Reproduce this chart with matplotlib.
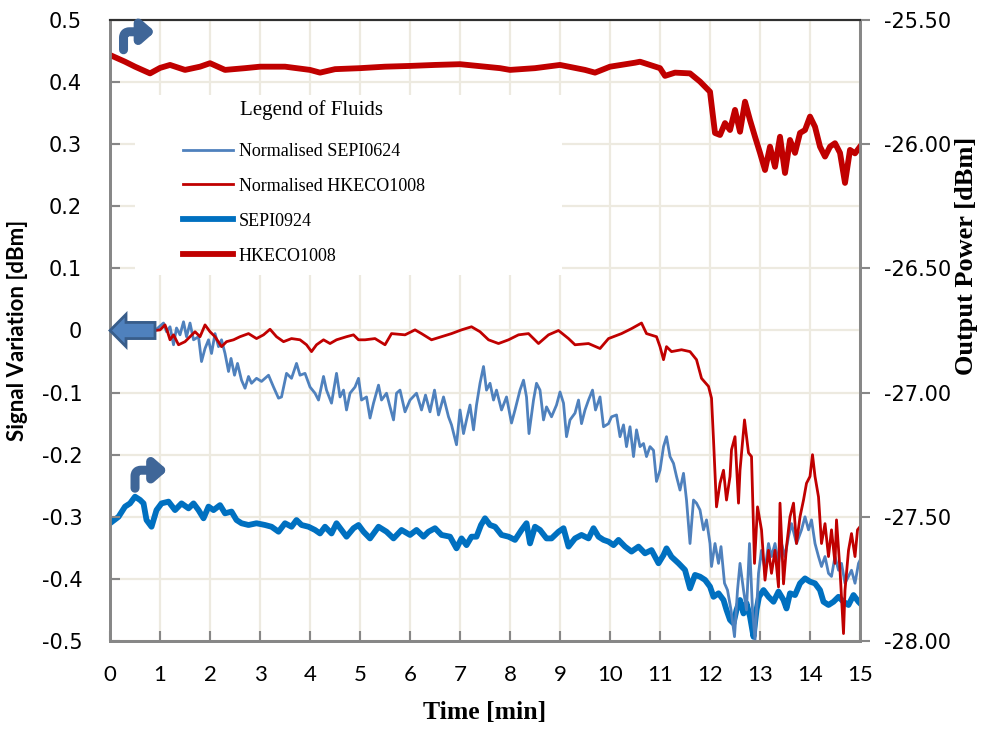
import matplotlib
matplotlib.use("Agg")
import matplotlib.pyplot as plt
from matplotlib.patches import FancyArrow, Rectangle
import numpy as np

plt.rcParams['axes.unicode_minus'] = False

# ---- data ----
# Normalised HKECO1008, left axis [dBm]
t_norm_hk = [0.0, 0.5, 0.9, 1.0, 1.1, 1.15, 1.2, 1.27, 1.37, 1.5, 1.6, 1.7, 1.8, 1.9, 2.0,
             2.1, 2.23, 2.33, 2.47, 2.6, 2.77, 2.93, 3.07, 3.2, 3.33, 3.47, 3.63, 3.8, 3.93,
             4.03, 4.13, 4.27, 4.4, 4.53, 4.73, 4.87, 4.97, 5.1, 5.3, 5.5, 5.63, 5.9, 6.1,
             6.23, 6.43, 6.63, 6.83, 7.03, 7.23, 7.4, 7.57, 7.77, 7.97, 8.17, 8.37, 8.57,
             8.77, 8.97, 9.17, 9.3, 9.57, 9.8, 9.97, 10.23, 10.43, 10.63, 10.73, 10.93,
             11.0, 11.07, 11.13, 11.23, 11.43, 11.6, 11.73, 11.83, 11.97, 12.03, 12.07,
             12.13, 12.2, 12.27, 12.33, 12.4, 12.43, 12.5, 12.57, 12.6, 12.69, 12.77, 12.83,
             12.89, 12.95, 13.03, 13.1, 13.17, 13.23, 13.3, 13.37, 13.4, 13.47, 13.53, 13.6,
             13.67, 13.73, 13.8, 13.87, 13.93, 14.0, 14.05, 14.1, 14.17, 14.23, 14.3, 14.37,
             14.43, 14.5, 14.53, 14.6, 14.67, 14.7, 14.77, 14.83, 14.9, 14.95, 15.0]
v_norm_hk = [0.0, 0.0, 0.0, 0.001, 0.009, -0.002, -0.015, -0.007, -0.023, -0.018, -0.010,
             -0.002, -0.010, 0.009, -0.002, -0.010, -0.026, -0.018, -0.015, -0.010, -0.005,
             -0.013, -0.007, 0.002, -0.010, -0.018, -0.013, -0.015, -0.023, -0.034, -0.023,
             -0.015, -0.021, -0.015, -0.010, -0.007, -0.015, -0.015, -0.013, -0.023, -0.005,
             -0.007, 0.001, -0.005, -0.015, -0.010, -0.005, 0.001, 0.006, -0.002, -0.015,
             -0.021, -0.015, -0.007, -0.005, -0.021, -0.007, 0.000, -0.013, -0.023, -0.021,
             -0.029, -0.013, -0.005, 0.003, 0.012, -0.005, -0.010, -0.026, -0.047, -0.026,
             -0.034, -0.031, -0.034, -0.047, -0.077, -0.090, -0.109, -0.176, -0.284, -0.246,
             -0.225, -0.273, -0.235, -0.192, -0.171, -0.278, -0.225, -0.144, -0.197, -0.203,
             -0.375, -0.284, -0.321, -0.402, -0.354, -0.391, -0.354, -0.413, -0.278, -0.408,
             -0.348, -0.300, -0.278, -0.343, -0.300, -0.273, -0.246, -0.235, -0.200, -0.235,
             -0.268, -0.343, -0.311, -0.364, -0.321, -0.375, -0.305, -0.386, -0.488, -0.418,
             -0.354, -0.327, -0.364, -0.321, -0.316]

# Normalised SEPI0624, left axis [dBm]
t_norm_sepi = [0.0, 0.5, 0.9, 1.07, 1.13, 1.2, 1.27, 1.33, 1.4, 1.47, 1.53, 1.6, 1.67, 1.77,
               1.83, 1.9, 1.97, 2.03, 2.1, 2.17, 2.23, 2.3, 2.37, 2.42, 2.49, 2.55, 2.63, 2.7,
               2.77, 2.83, 2.93, 3.03, 3.17, 3.27, 3.37, 3.43, 3.53, 3.63, 3.73, 3.8, 3.9,
               4.0, 4.1, 4.17, 4.27, 4.33, 4.43, 4.53, 4.6, 4.67, 4.73, 4.8, 4.9, 4.97, 5.03,
               5.13, 5.2, 5.27, 5.37, 5.43, 5.53, 5.6, 5.67, 5.73, 5.8, 5.9, 6.0, 6.13, 6.23,
               6.31, 6.4, 6.49, 6.57, 6.67, 6.77, 6.83, 6.93, 7.0, 7.07, 7.13, 7.2, 7.27, 7.33,
               7.4, 7.47, 7.53, 7.6, 7.67, 7.73, 7.83, 7.93, 8.03, 8.1, 8.2, 8.27, 8.33, 8.38,
               8.47, 8.53, 8.6, 8.67, 8.73, 8.83, 8.93, 9.0, 9.07, 9.13, 9.2, 9.3, 9.37, 9.43,
               9.5, 9.57, 9.65, 9.71, 9.8, 9.87, 9.97, 10.03, 10.13, 10.2, 10.27, 10.33, 10.4,
               10.47, 10.53, 10.6, 10.67, 10.73, 10.8, 10.87, 10.93, 11.0, 11.07, 11.13, 11.2,
               11.27, 11.33, 11.4, 11.47, 11.53, 11.6, 11.67, 11.73, 11.8, 11.87, 11.93, 12.0,
               12.03, 12.1, 12.17, 12.22, 12.29, 12.35, 12.42, 12.49, 12.55, 12.6, 12.67,
               12.73, 12.79, 12.85, 12.9, 12.97, 13.03, 13.1, 13.17, 13.23, 13.3, 13.37, 13.43,
               13.5, 13.57, 13.63, 13.73, 13.83, 13.9, 13.97, 14.03, 14.1, 14.17, 14.23, 14.3,
               14.37, 14.43, 14.5, 14.57, 14.63, 14.7, 14.77, 14.83, 14.9, 14.97, 15.0]
v_norm_sepi = [0.0, 0.0, 0.0, 0.012, -0.002, 0.006, -0.023, 0.004, -0.007, 0.014, -0.010,
               0.012, -0.015, -0.010, -0.050, -0.029, -0.015, -0.037, -0.005, -0.026, -0.015,
               -0.037, -0.066, -0.045, -0.072, -0.053, -0.080, -0.093, -0.074, -0.085, -0.077,
               -0.082, -0.072, -0.091, -0.109, -0.107, -0.069, -0.077, -0.053, -0.072, -0.069,
               -0.091, -0.101, -0.112, -0.074, -0.096, -0.117, -0.069, -0.107, -0.096, -0.128,
               -0.101, -0.091, -0.077, -0.112, -0.107, -0.141, -0.117, -0.088, -0.112, -0.101,
               -0.123, -0.144, -0.101, -0.096, -0.131, -0.112, -0.101, -0.128, -0.104, -0.131,
               -0.096, -0.136, -0.107, -0.139, -0.152, -0.184, -0.128, -0.166, -0.144, -0.120,
               -0.160, -0.120, -0.085, -0.058, -0.096, -0.085, -0.112, -0.096, -0.128, -0.107,
               -0.149, -0.128, -0.096, -0.080, -0.107, -0.166, -0.112, -0.085, -0.096, -0.144,
               -0.123, -0.139, -0.120, -0.099, -0.117, -0.171, -0.144, -0.133, -0.112, -0.150,
               -0.128, -0.112, -0.096, -0.128, -0.107, -0.155, -0.150, -0.139, -0.136, -0.171,
               -0.152, -0.187, -0.155, -0.203, -0.160, -0.187, -0.182, -0.203, -0.187, -0.193,
               -0.243, -0.225, -0.187, -0.171, -0.203, -0.214, -0.235, -0.257, -0.230, -0.273,
               -0.343, -0.273, -0.278, -0.289, -0.321, -0.305, -0.343, -0.380, -0.343, -0.375,
               -0.348, -0.407, -0.418, -0.450, -0.493, -0.418, -0.375, -0.418, -0.450, -0.343,
               -0.450, -0.498, -0.391, -0.354, -0.386, -0.343, -0.364, -0.343, -0.375, -0.343,
               -0.364, -0.332, -0.311, -0.343, -0.321, -0.300, -0.321, -0.305, -0.343, -0.364,
               -0.380, -0.364, -0.391, -0.396, -0.364, -0.386, -0.375, -0.407, -0.396, -0.386,
               -0.407, -0.375, -0.370]

# SEPI0924, right axis [dBm]
t_sepi = [0.0, 0.17, 0.3, 0.4, 0.5, 0.6, 0.67, 0.73, 0.83, 0.93, 1.03, 1.17, 1.3, 1.43, 1.57,
          1.67, 1.77, 1.87, 1.97, 2.07, 2.2, 2.3, 2.43, 2.53, 2.63, 2.77, 2.93, 3.1, 3.23,
          3.37, 3.5, 3.63, 3.73, 3.83, 3.97, 4.1, 4.2, 4.3, 4.43, 4.53, 4.63, 4.73, 4.87,
          4.97, 5.07, 5.2, 5.37, 5.53, 5.67, 5.83, 6.0, 6.13, 6.27, 6.37, 6.5, 6.63, 6.8,
          6.93, 7.03, 7.13, 7.23, 7.33, 7.42, 7.5, 7.6, 7.7, 7.83, 7.97, 8.1, 8.23, 8.33, 8.4,
          8.5, 8.6, 8.73, 8.83, 8.97, 9.07, 9.17, 9.3, 9.43, 9.57, 9.67, 9.77, 9.87, 9.97,
          10.07, 10.17, 10.3, 10.43, 10.57, 10.7, 10.83, 10.97, 11.07, 11.13, 11.23, 11.37,
          11.5, 11.6, 11.7, 11.8, 11.9, 12.0, 12.07, 12.17, 12.27, 12.33, 12.4, 12.47, 12.53,
          12.6, 12.67, 12.73, 12.8, 12.87, 12.93, 12.98, 13.07, 13.17, 13.27, 13.37, 13.47,
          13.53, 13.6, 13.7, 13.8, 13.9, 14.0, 14.1, 14.2, 14.27, 14.37, 14.47, 14.57, 14.67,
          14.77, 14.87, 14.97, 15.0]
p_sepi = [-27.526, -27.500, -27.459, -27.446, -27.419, -27.432, -27.446, -27.513, -27.540,
          -27.473, -27.446, -27.439, -27.473, -27.446, -27.466, -27.446, -27.473, -27.506,
          -27.459, -27.473, -27.453, -27.486, -27.479, -27.513, -27.526, -27.533, -27.526,
          -27.533, -27.540, -27.560, -27.526, -27.540, -27.513, -27.533, -27.540, -27.553,
          -27.567, -27.540, -27.567, -27.526, -27.553, -27.580, -27.546, -27.533, -27.560,
          -27.587, -27.540, -27.560, -27.587, -27.553, -27.573, -27.553, -27.580, -27.560,
          -27.546, -27.573, -27.580, -27.627, -27.587, -27.614, -27.580, -27.580, -27.533,
          -27.506, -27.533, -27.540, -27.573, -27.580, -27.593, -27.553, -27.526, -27.607,
          -27.540, -27.553, -27.587, -27.587, -27.560, -27.546, -27.620, -27.587, -27.573,
          -27.587, -27.546, -27.580, -27.593, -27.600, -27.614, -27.593, -27.620, -27.640,
          -27.620, -27.647, -27.634, -27.687, -27.654, -27.627, -27.661, -27.687, -27.714,
          -27.788, -27.734, -27.741, -27.754, -27.781, -27.822, -27.808, -27.835, -27.875,
          -27.915, -27.929, -27.875, -27.835, -27.889, -27.848, -27.902, -27.983, -27.875,
          -27.822, -27.795, -27.822, -27.842, -27.801, -27.835, -27.869, -27.808, -27.815,
          -27.768, -27.748, -27.761, -27.768, -27.795, -27.842, -27.855, -27.842, -27.822,
          -27.842, -27.855, -27.815, -27.842, -27.848]

# HKECO1008, right axis [dBm]
t_hk = [0.0, 0.3, 0.5, 0.8, 1.0, 1.2, 1.5, 1.8, 2.0, 2.3, 2.7, 3.0, 3.5, 4.0, 4.2, 4.5, 5.0,
        5.5, 6.0, 6.5, 7.0, 7.5, 7.8, 8.0, 8.5, 9.0, 9.5, 9.7, 10.0, 10.5, 10.6, 10.8, 11.0,
        11.1, 11.3, 11.6, 11.8, 12.0, 12.1, 12.2, 12.3, 12.4, 12.5, 12.6, 12.7, 12.8, 12.9,
        13.0, 13.1, 13.2, 13.3, 13.4, 13.5, 13.6, 13.7, 13.8, 13.9, 14.0, 14.1, 14.2, 14.3,
        14.4, 14.5, 14.6, 14.7, 14.8, 14.9, 15.0]
p_hk = [-25.641, -25.668, -25.688, -25.715, -25.693, -25.681, -25.701, -25.688, -25.674,
        -25.701, -25.694, -25.688, -25.688, -25.701, -25.712, -25.698, -25.694, -25.688,
        -25.685, -25.681, -25.678, -25.688, -25.694, -25.701, -25.694, -25.681, -25.701,
        -25.712, -25.688, -25.672, -25.668, -25.681, -25.694, -25.725, -25.712, -25.715,
        -25.748, -25.789, -25.955, -25.963, -25.915, -25.943, -25.862, -25.950, -25.829,
        -25.903, -25.970, -26.035, -26.104, -26.010, -26.091, -25.970, -26.116, -25.983,
        -26.035, -25.955, -25.943, -25.889, -25.930, -26.010, -26.050, -26.010, -25.996,
        -26.035, -26.156, -26.023, -26.037, -26.010]

x_ticks = list(range(16))
left_ticks = [-0.5, -0.4, -0.3, -0.2, -0.1, 0.0, 0.1, 0.2, 0.3, 0.4, 0.5]
right_ticks = [-28.0, -27.5, -27.0, -26.5, -26.0, -25.5]

RED = '#C00000'
BLUE = '#0070C0'
LBLUE = '#4F81BD'
GRID = '#EDEAE0'
SPINE = '#878787'

fig = plt.figure(figsize=(9.85, 7.29), dpi=100)
ax1 = fig.add_axes([0.1117, 0.1207, 0.7614, 0.8519])
ax2 = ax1.twinx()

# ax2 (right axis, thick lines + grid) sits below, ax1 (thin lines) on top
ax1.set_zorder(2)
ax1.patch.set_visible(False)
ax2.set_zorder(1)
ax2.patch.set_visible(True)
ax2.patch.set_facecolor('white')

ax1.set_xlim(0, 15)
ax1.set_ylim(-0.5, 0.5)
ax2.set_ylim(-28.0, -25.5)

# grid from ax2
ax2.set_axisbelow(True)
ax2.xaxis.set_visible(True)
ax2.set_xticks(x_ticks)
ax2.tick_params(axis='x', which='both', bottom=False, top=False,
                labelbottom=False, labeltop=False)
ax2.set_yticks(right_ticks)
ax2.set_yticks(np.arange(-27.75, -25.6, 0.5), minor=True)
ax2.grid(axis='x', color=GRID, lw=1.6)
ax2.grid(axis='y', which='both', color=GRID, lw=1.6)
# white legend area
ax2.add_patch(Rectangle((0.0333, 0.589), 0.5694, 0.290, transform=ax2.transAxes,
                        facecolor='white', edgecolor='none', zorder=1))

ax2.plot(t_sepi, p_sepi, color=BLUE, lw=4.2, label='SEPI0924', solid_joinstyle='round',
         zorder=3)
ax2.plot(t_hk, p_hk, color=RED, lw=4.2, label='HKECO1008', solid_joinstyle='round',
         zorder=3)

l1, = ax1.plot(t_norm_sepi, v_norm_sepi, color=LBLUE, lw=2.0, label='Normalised SEPI0624')
l2, = ax1.plot(t_norm_hk, v_norm_hk, color=RED, lw=2.0, label='Normalised HKECO1008')

# ticks
ax1.set_xticks(x_ticks)
ax1.set_xticklabels([str(x) for x in x_ticks], family='Lato', fontsize=16)
ax1.set_yticks(left_ticks)
ax1.set_yticklabels(['0' if v == 0 else f'{v:.1f}' for v in left_ticks],
                    family='DejaVu Sans', fontsize=15)
ax2.set_yticklabels([f'{v:.2f}' for v in right_ticks], family='DejaVu Sans', fontsize=15)
ax2.tick_params(axis='y', which='minor', right=False, length=0)

ax1.tick_params(axis='x', direction='in', length=7, width=1.5, color=SPINE, pad=17)
ax1.tick_params(axis='y', direction='in', length=7, width=1.5, color=SPINE, pad=20)
ax2.tick_params(axis='y', which='major', direction='out', length=7, width=1.5,
                color=SPINE, pad=10)

for ax in (ax1, ax2):
    for side in ('left', 'bottom', 'right'):
        ax.spines[side].set_color(SPINE)
        ax.spines[side].set_linewidth(2)
    ax.spines['top'].set_color('#303030')
    ax.spines['top'].set_linewidth(1.5)

# axis labels
ax1.set_xlabel('Time [min]', family='Liberation Serif', fontweight='bold', fontsize=18.5)
ax1.xaxis.set_label_coords(0.5, -0.097)
ax1.set_ylabel('Signal Variation [dBm]', family='Lato', fontweight='bold', fontsize=16)
ax1.yaxis.set_label_coords(-0.110, 0.5)
ax2.set_ylabel('Output Power [dBm]', family='Liberation Serif', fontweight='bold',
               fontsize=19)
ax2.yaxis.set_label_coords(1.126, 0.62)

# axis indicator arrows
ax1.add_patch(FancyArrow(0.9, 0.0, -0.9, 0.0, width=0.026, head_width=0.052,
                         head_length=0.32, length_includes_head=True, fc=LBLUE,
                         ec='#385D8A', lw=2, zorder=6, clip_on=False))
bent = dict(arrowstyle='-|>,head_length=0.4,head_width=0.35',
            connectionstyle='angle,angleA=90,angleB=0,rad=6',
            lw=6.5, color='#3F6698', shrinkA=0, shrinkB=0, mutation_scale=18)
ax1.annotate('', xy=(0.9, 0.481), xytext=(0.27, 0.452), arrowprops=bent, zorder=6)
ax1.annotate('', xy=(1.15, -0.225), xytext=(0.5, -0.254), arrowprops=bent, zorder=6)

# legend
h2, lab2 = ax2.get_legend_handles_labels()
ax1.text(0.1733, 0.855, 'Legend of Fluids', transform=ax1.transAxes,
         family='Liberation Serif', fontsize=15, va='center', ha='left')
ax1.legend([l1, l2] + h2, ['Normalised SEPI0624', 'Normalised HKECO1008'] + lab2,
           loc='upper left', bbox_to_anchor=(0.0973, 0.802), frameon=False,
           borderpad=0, borderaxespad=0, handlelength=2.75, handletextpad=0.35,
           labelspacing=0.99, prop={'family': 'Liberation Serif', 'size': 13})

fig.savefig('out.png', dpi=100)
